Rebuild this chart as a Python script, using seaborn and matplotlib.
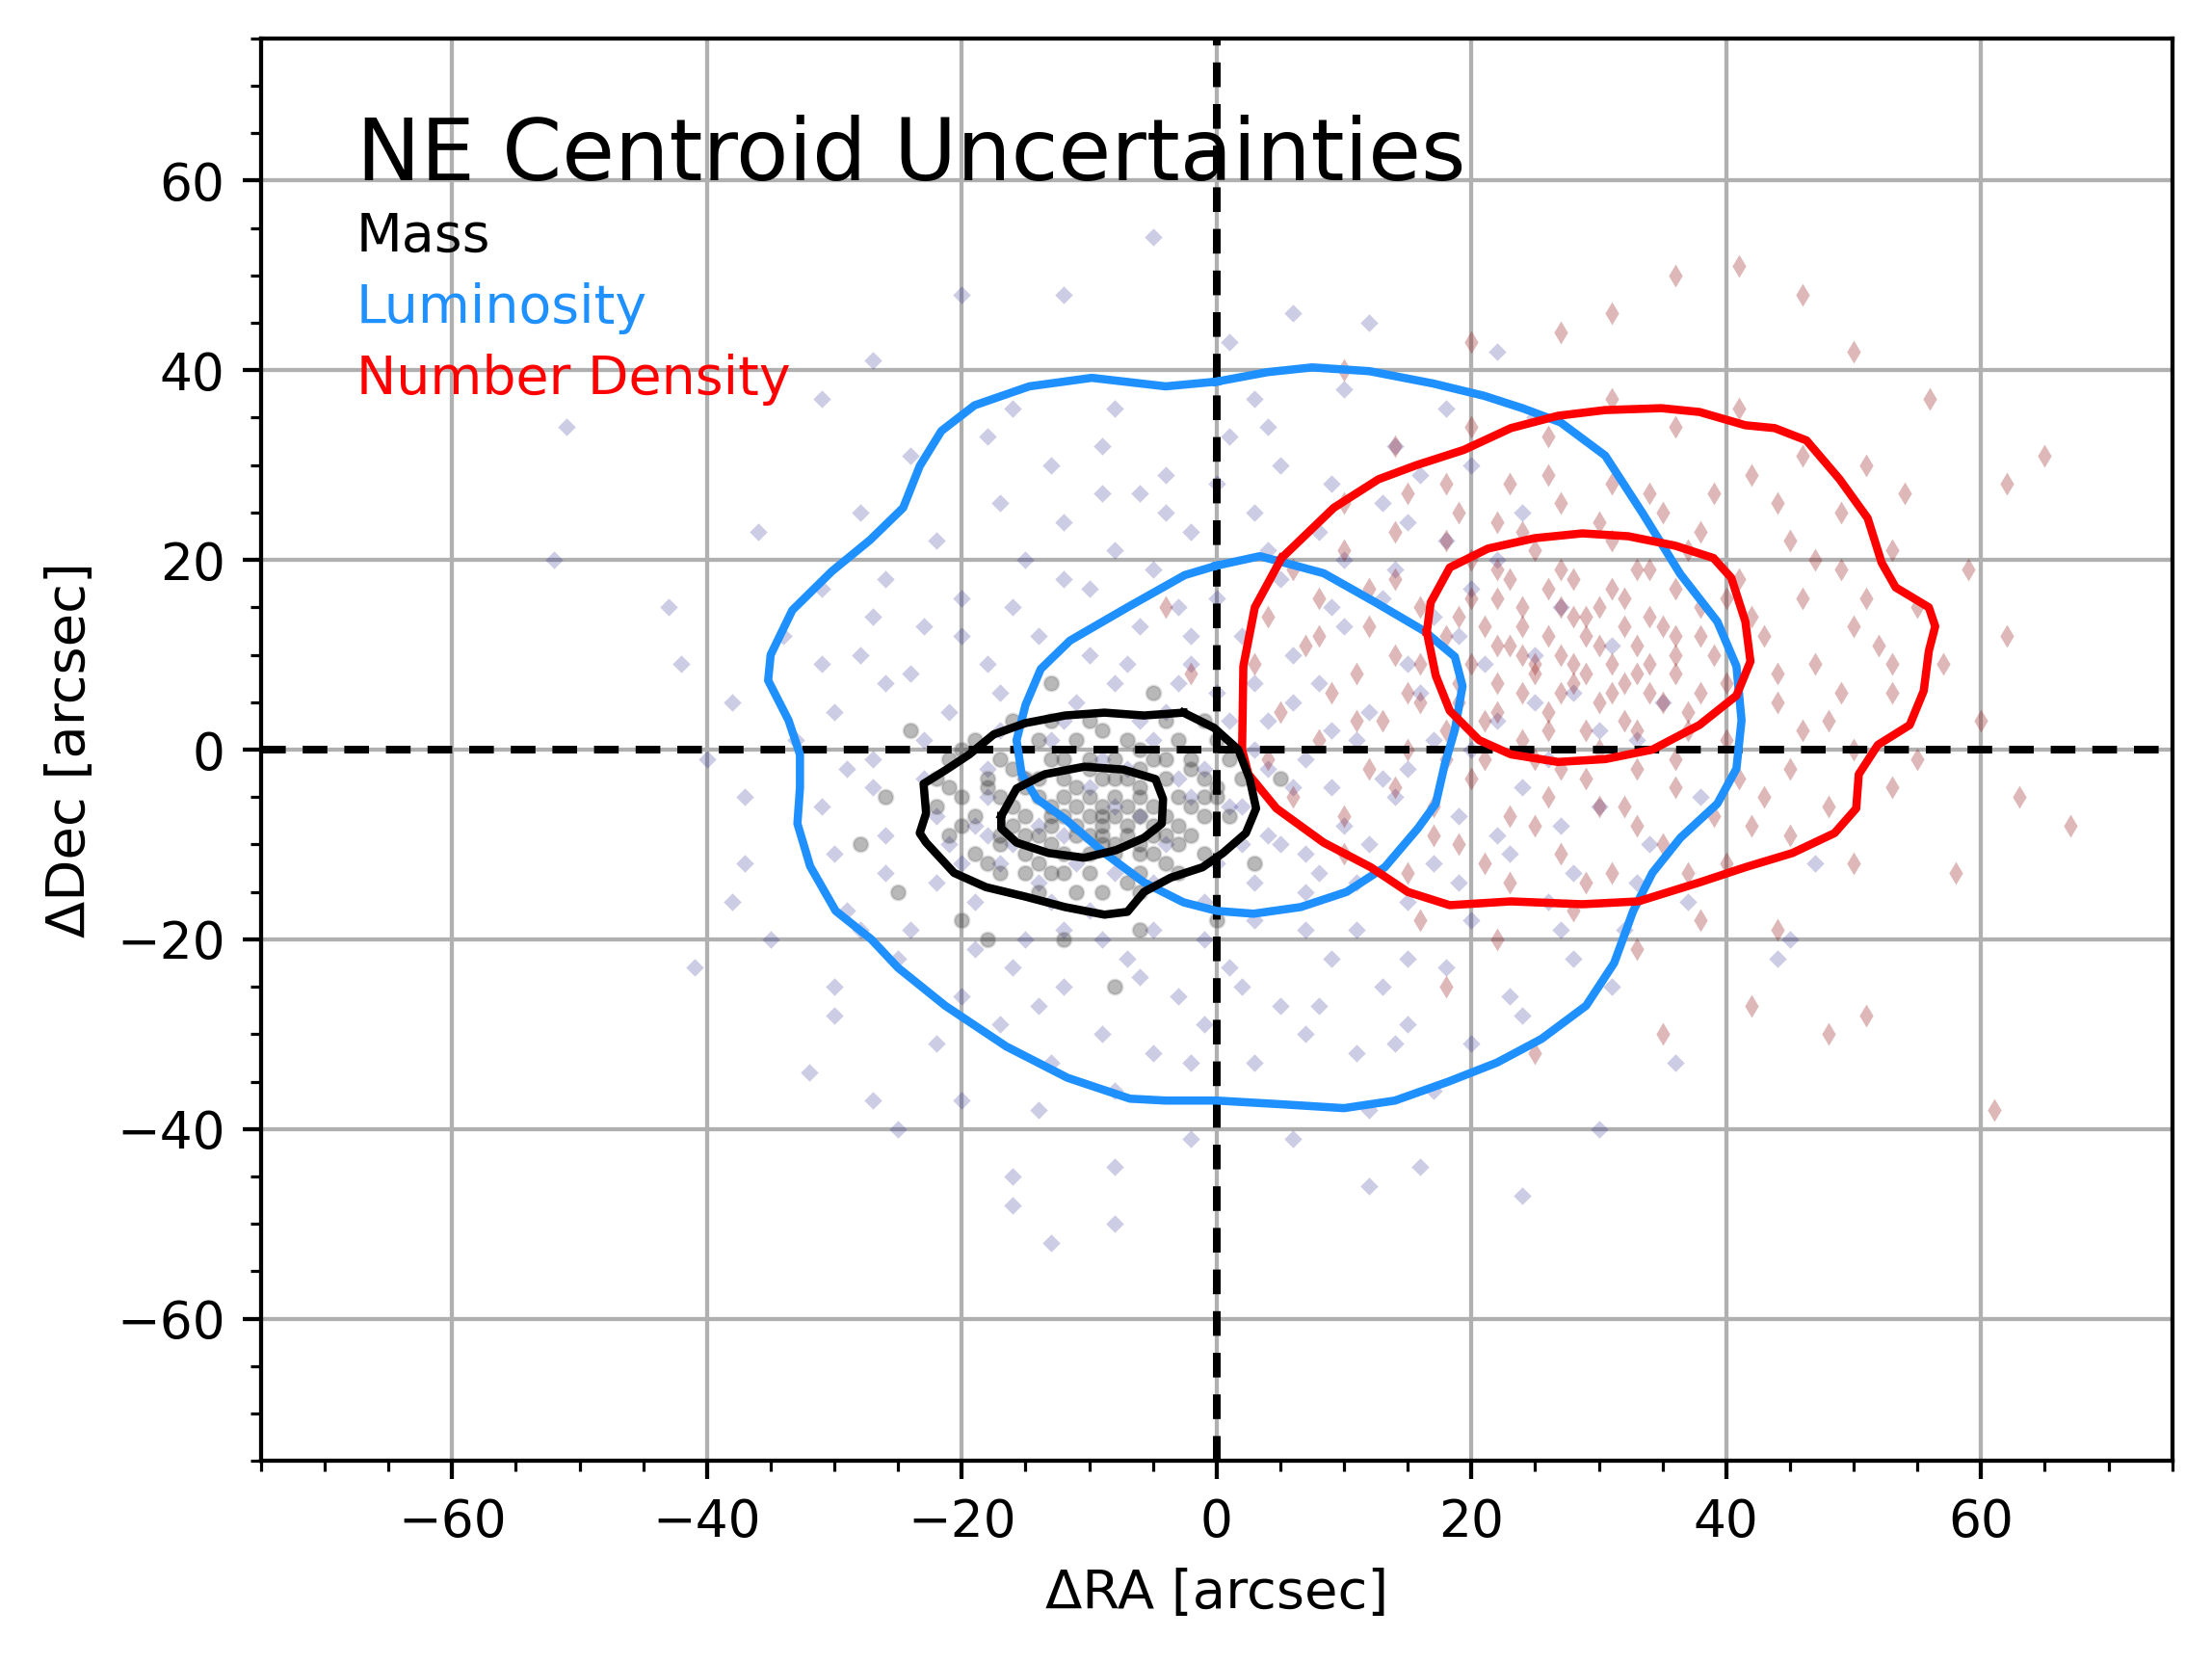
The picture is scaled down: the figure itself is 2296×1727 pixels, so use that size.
import matplotlib
matplotlib.use("Agg")
import matplotlib.pyplot as plt
import seaborn as sns
from matplotlib.ticker import MultipleLocator

# contour lines (x, y in arcsec)
lum_outer_x = [0, 4, 7.5, 12, 17, 21, 24, 27, 30.5, 33.4, 36.4, 39.3, 40.8, 41.2, 40.8, 39.3, 36.4, 34.2,
               32.7, 31.2, 29, 25.5, 22, 18.2, 14, 10, 5.2, 0, -4, -6.8, -11.7, -16.5, -21.3, -25, -27.1,
               -29.9, -31.9, -32.9, -32.7, -32.7, -33.6, -35.2, -35, -33.3, -30.2, -27.2, -24.6, -23.3,
               -21.6, -19, -14.7, -9.8, -4, 0]
lum_outer_y = [38.8, 39.8, 40.3, 39.9, 38.6, 37.3, 36, 34.5, 31, 25, 18.5, 13.5, 8.8, 3.1, -2, -5.7, -9.3, -13,
               -17, -22.5, -27, -30.5, -33, -35, -37, -37.8, -37.4, -37, -37, -36.8, -34.6, -31.3, -27, -23,
               -20, -17, -12.3, -7.8, -4, -0.5, 3.1, 7.3, 10, 14.7, 18.8, 22.1, 25.5, 29.9, 33.6, 36.3, 38.3,
               39.2, 38.3, 38.8]
lum_inner_x = [0, 3.4, 8.4, 12.5, 16.3, 18.7, 19.3, 18.7, 17.9, 17.2, 15.8, 13.2, 10.2, 6.6, 2.9, 0, -2.6,
               -5.7, -8.8, -11.9, -14.1, -15.3, -15.7, -15, -13.8, -11.5, -7, -2.5, 0]
lum_inner_y = [19.4, 20.4, 18.6, 15.5, 12.5, 9.8, 6.7, 2.1, -1.6, -5.7, -8.3, -12.4, -15, -16.6, -17.3, -17,
               -16.1, -14, -10.9, -7.3, -5.2, -2.6, 1, 4.7, 8.5, 11.5, 15, 18.4, 19.4]
nd_outer_x = [5.1, 3, 2.1, 2, 2.5, 4.7, 8.4, 12.1, 15, 18.3, 23.1, 28.7, 33.1, 37.9, 41.5, 45.2, 48.5, 50.2,
              50.4, 51.9, 54.4, 55.5, 55.9, 56.4, 55.9, 53.3, 52.2, 51.1, 48.9, 46.3, 43.8, 41.5, 37.9, 34.9,
              30.5, 26.8, 23.1, 19.4, 15.7, 12.7, 9.2, 5.1]
nd_outer_y = [20.2, 15, 8.8, 0, -2.6, -6.2, -9.8, -12.4, -15, -16.4, -16, -16.3, -16, -14, -12.4, -10.9, -8.8,
              -6.2, -2.6, 0.5, 2.6, 6.2, 10.4, 13, 15, 17.1, 19.7, 24.4, 28.5, 32.6, 33.9, 34.2, 35.6, 36,
              35.8, 35.2, 33.9, 31.6, 30, 28.5, 25.5, 20.2]
nd_inner_x = [16.5, 17.2, 18.3, 20.6, 23.1, 26.8, 30.5, 34.2, 37.9, 40.8, 41.9, 41.5, 40.4, 39, 36, 32.3,
              28.7, 25, 21.3, 18.3, 16.8, 16.5]
nd_inner_y = [12.4, 7.8, 4.1, 1, -0.5, -1.3, -1, 0, 2.6, 5.7, 9.3, 13.5, 18.1, 20.2, 21.5, 22.5, 22.8, 22.3,
              21.2, 19.2, 15.5, 12.4]
mass_outer_x = [-2.6, -0.2, 1.7, 2.6, 3.1, 2.3, 0.5, -1.1, -3.6, -5.7, -7, -8.8, -11.9, -15, -18.1, -20.6,
                -22.8, -23.3, -22.8, -23, -21.2, -19.4, -17.5, -15, -11.9, -8.8, -5.7, -2.6]
mass_outer_y = [3.9, 2.3, 0, -3.1, -6.2, -8.8, -10.9, -12.4, -13.5, -15, -17.1, -17.4, -16.6, -15.5, -14.5,
                -13, -9.8, -8.8, -6.7, -3.6, -2.1, -0.5, 1.6, 2.8, 3.6, 3.9, 3.6, 3.9]
mass_inner_x = [-16.9, -15.7, -13.5, -10.4, -7.3, -4.8, -4.2, -4.3, -5.7, -7.9, -10.4, -13.2, -15.7, -16.9,
                -16.9]
mass_inner_y = [-7, -4.1, -2.6, -1.8, -2.1, -3.1, -5.2, -7.8, -9.3, -10.6, -11.4, -10.9, -9.8, -8.3, -7]

# centroid samples, estimated from the scatter in the reference
lum_pts = [(-5, 54), (-12, 48), (-20, 48), (6, 46), (12, 45), (1, 43), (22, 42),
           (-27, 41), (-31, 37), (-16, 36), (-8, 36), (3, 37), (10, 38), (18, 36), (25, 35),
           (-51, 34), (-24, 31), (-18, 33), (-13, 30), (-9, 32), (-4, 29), (1, 33), (5, 30), (9, 28), (14, 32), (20, 30),
           (-36, 23), (-28, 25), (-22, 22), (-17, 26), (-12, 24), (-6, 27), (-2, 23), (3, 25), (8, 23), (13, 26),
           (18, 22), (24, 25), (-52, 20),
           (-43, 15), (-31, 17), (-26, 18), (-20, 16), (-15, 20), (-10, 17), (-5, 19), (0, 16), (4, 21), (9, 15),
           (14, 19), (20, 17), (27, 15),
           (-42, 9), (-34, 12), (-28, 10), (-23, 13), (-18, 9), (-14, 12), (-10, 10), (-6, 13), (-2, 9), (2, 12),
           (6, 10), (10, 13), (15, 9), (19, 12), (25, 10), (31, 11),
           (-38, 5), (-30, 4), (-26, 7), (-21, 4), (-17, 6), (-12, 3), (-8, 7), (-4, 4), (0, 6), (4, 3), (8, 7),
           (12, 4), (16, 6), (22, 3), (28, 6), (35, 5),
           (-40, -1), (-33, 1), (-27, -1), (-23, 1), (-18, -2), (-13, 1), (-9, -1), (-5, 1), (-1, -2), (3, 0),
           (7, -1), (11, 1), (15, -2), (20, 0), (26, -1), (33, 1),
           (-37, -5), (-31, -6), (-27, -4), (-22, -7), (-18, -5), (-14, -8), (-10, -4), (-6, -7), (-2, -5), (2, -6),
           (6, -4), (10, -8), (14, -5), (19, -7), (24, -4), (30, -6), (38, -5),
           (-37, -12), (-30, -11), (-26, -13), (-21, -10), (-17, -12), (-12, -9), (-8, -13), (-4, -10), (0, -12),
           (4, -9), (8, -13), (12, -10), (17, -12), (22, -9), (28, -13), (34, -10), (47, -12),
           (-38, -16), (-35, -20), (-29, -17), (-24, -19), (-19, -16), (-15, -20), (-10, -17), (-5, -19), (-1, -16),
           (3, -18), (7, -15), (11, -19), (15, -16), (20, -18), (26, -16), (32, -19), (45, -20),
           (-41, -23), (-30, -25), (-25, -22), (-20, -26), (-16, -23), (-12, -25), (-7, -22), (-3, -26), (1, -23),
           (5, -27), (9, -22), (13, -25), (18, -23), (23, -26), (28, -22), (44, -22),
           (-30, -28), (-32, -34), (-22, -31), (-17, -29), (-13, -33), (-9, -30), (-5, -32), (-1, -29), (3, -33),
           (7, -30), (11, -32), (15, -29), (20, -31), (24, -28), (36, -33),
           (-27, -37), (-25, -40), (-20, -37), (-14, -38), (-8, -36), (-2, -41), (6, -41), (12, -38), (17, -36),
           (30, -40), (-16, -45), (-16, -48), (-13, -52), (-8, -50), (-8, -44), (12, -46), (16, -44), (24, -47),
           (-6, 3), (-3, -3), (1, 3), (4, -2), (-8, -6), (-11, 5), (6, 5), (9, -4), (-2, 12), (2, -10),
           (-14, -14), (-16, -10), (-20, -12), (-7, 9), (3, 7), (-3, 15), (7, -11), (-12, -19),
           (-24, 8), (-20, 12), (-16, 15), (-12, 18), (-8, 21), (-4, 25), (0, 28), (5, 18), (10, 20), (15, 24),
           (-26, -9), (-22, -14), (-18, -9), (-13, -16), (-9, -20), (-5, -14), (-1, -20), (3, -14), (7, -19),
           (11, -14), (15, -22), (19, -14), (23, -11), (27, -8), (30, 2), (25, 5), (21, 9), (17, 14), (13, 16),
           (-7, -2), (-3, 7), (1, -6), (5, -10), (9, 2), (13, -3), (17, 1), (-17, 2), (-15, -3), (-19, -8),
           (-23, -3), (-11, -12), (-6, -24), (-2, -33), (2, -25), (8, -27), (14, -31), (-14, -27), (-19, -21),
           (-28, -19), (-9, 27), (4, 34), (16, 29), (-31, 9), (-29, -2), (33, -14), (37, -16), (31, -25),
           (-27, 14), (22, 20), (27, -19)]

nd_pts = [(36, 50), (41, 51), (46, 48), (31, 46), (50, 42), (56, 37), (62, 28), (65, 31), (67, -8), (63, -5),
          (51, -28), (61, -38), (48, -30), (59, 19), (62, 12), (60, 3), (58, -13), (42, -27), (35, -30),
          (25, -32), (18, -25), (-2, 8), (-4, 15), (10, 40), (20, 43), (27, 44),
          (14, 32), (20, 34), (26, 33), (31, 37), (36, 34), (41, 36), (46, 31), (51, 30),
          (10, 26), (15, 27), (19, 25), (23, 28), (27, 26), (31, 28), (35, 25), (39, 27), (44, 26), (49, 25), (54, 27),
          (6, 19), (10, 21), (14, 18), (18, 22), (22, 19), (25, 21), (28, 18), (31, 22), (34, 19), (37, 21),
          (41, 18), (45, 22), (49, 19), (53, 21),
          (4, 14), (8, 16), (12, 13), (16, 15), (19, 14), (22, 16), (24, 13), (27, 15), (29, 14), (32, 16),
          (35, 13), (38, 15), (42, 14), (46, 16), (50, 13), (55, 15),
          (3, 9), (7, 11), (11, 8), (14, 10), (18, 12), (20, 9), (23, 11), (25, 8), (27, 10), (29, 12), (31, 9),
          (33, 11), (36, 8), (39, 10), (43, 12), (47, 9), (52, 11), (57, 9),
          (5, 4), (9, 6), (13, 3), (16, 5), (19, 7), (22, 4), (24, 6), (26, 4), (28, 7), (30, 5), (32, 3), (34, 6),
          (37, 4), (40, 7), (44, 5), (48, 3), (53, 6),
          (4, -1), (8, 1), (12, -2), (15, 0), (18, 2), (21, -1), (24, 1), (27, -2), (30, 0), (33, 2), (36, -1),
          (40, 1), (45, -2), (50, 0), (55, -1),
          (6, -5), (10, -7), (14, -4), (17, -6), (20, -3), (23, -7), (26, -5), (29, -3), (32, -6), (36, -4),
          (39, -7), (43, -5), (48, -6), (53, -4),
          (10, -11), (15, -13), (19, -10), (23, -14), (27, -11), (31, -13), (35, -10), (40, -12), (45, -9), (50, -12),
          (16, -18), (22, -20), (28, -17), (33, -21), (38, -18), (44, -19),
          (21, 13), (24, 15), (26, 12), (28, 14), (30, 11), (32, 13), (34, 9), (36, 12), (22, 7), (25, 9), (27, 6),
          (29, 8), (31, 6), (33, 8), (35, 5), (23, 18), (27, 19), (31, 17), (19, 5), (38, 6),
          (8, 12), (12, 17), (16, 9), (20, 16), (22, 11), (24, 10), (26, 17), (28, 9), (30, 15), (32, 7), (34, 14),
          (36, 10), (38, 12), (40, 16), (44, 8), (11, 3), (15, 6), (18, -1), (21, 3), (25, -1), (29, 2), (33, -2),
          (37, 2), (41, -3), (46, 2), (17, -9), (21, -12), (25, -8), (29, -14), (33, -8), (37, -13), (42, -8),
          (14, 23), (18, 28), (22, 24), (26, 29), (30, 24), (34, 27), (38, 23), (42, 29), (47, 20), (51, 16),
          (53, 9), (49, 6), (20, 20), (24, 23), (33, 19), (36, 17), (26, 2), (30, -6)]

mass_pts = [(-16, 3), (-10, 3), (-4, 3), (-1, 3),
            (-19, 1), (-14, 1), (-11, 1), (-7, 1), (-3, 1), (0, 1),
            (-21, -1), (-17, -1), (-13, -1), (-10, -1), (-8, -1), (-5, -1), (-2, -1), (1, -1),
            (-22, -3), (-18, -3), (-15, -3), (-12, -3), (-9, -3), (-7, -3), (-4, -3), (-1, -3), (2, -3),
            (-15, -4), (-11, -4), (-6, -4),
            (-20, -5), (-17, -5), (-14, -5), (-12, -5), (-10, -5), (-8, -5), (-6, -5), (-3, -5), (0, -5),
            (-22, -6), (-16, -6), (-13, -6), (-11, -6), (-9, -6), (-7, -6), (-5, -6), (-2, -6),
            (-19, -7), (-15, -7), (-12, -7), (-10, -7), (-8, -7), (-6, -7), (-4, -7), (-1, -7), (1, -7),
            (-16, -8), (-13, -8), (-9, -8), (-5, -8),
            (-21, -9), (-17, -9), (-14, -9), (-11, -9), (-9, -9), (-7, -9), (-4, -9), (-2, -9),
            (-13, -10), (-9, -10), (-6, -10),
            (-19, -11), (-15, -11), (-12, -11), (-10, -11), (-8, -11), (-5, -11), (-1, -11),
            (-17, -13), (-13, -13), (-10, -13), (-6, -13), (-3, -13),
            (-14, -15), (-9, -15), (-6, -15),
            (-26, -5), (-28, -10), (-25, -15), (-20, -18), (-12, -20), (-6, -19), (3, -12), (5, -3), (-24, 2),
            (-13, 7), (-5, 6), (-18, -20), (-8, -25), (0, -18),
            (-18, -4), (-16, -2), (-14, -3), (-12, -1), (-10, -2), (-8, -3), (-6, -2), (-4, -1), (-17, -10),
            (-15, -9), (-13, -7), (-11, -8), (-9, -7), (-7, -8), (-5, -9), (-3, -8), (-14, -12), (-12, -13),
            (-10, -9), (-8, -10), (-6, -11), (-4, -12), (-20, -8), (-18, -12), (-2, -2), (0, -4), (-20, 0),
            (-9, 2), (-13, 3), (-6, 0), (-11, -15), (-7, -14), (-3, -10), (-1, -5), (-15, -13), (-21, -4)]

lum_x = [p[0] for p in lum_pts]
lum_y = [p[1] for p in lum_pts]
nd_x = [p[0] for p in nd_pts]
nd_y = [p[1] for p in nd_pts]
mass_x = [p[0] for p in mass_pts]
mass_y = [p[1] for p in mass_pts]

DPI = 384
fig = plt.figure(figsize=(2296 / DPI, 1727 / DPI), dpi=DPI)
ax = fig.add_axes([0.118, 0.122, 0.864, 0.855])
ax.set_axisbelow(True)
ax.grid(True, which="major", color="#b0b0b0", lw=0.8)

# samples
sns.scatterplot(x=lum_x, y=lum_y, marker="D", s=6, color="navy", alpha=0.2, linewidth=0, ax=ax)
sns.scatterplot(x=nd_x, y=nd_y, marker="d", s=10, color="darkred", alpha=0.28, linewidth=0, ax=ax)
sns.scatterplot(x=mass_x, y=mass_y, marker="o", s=8, color="black", alpha=0.28,
                edgecolor="gray", linewidth=0.5, ax=ax)

# reference axes
ax.axhline(0, color="k", ls=(0, (3.2, 2.2)), lw=1.5, zorder=3)
ax.axvline(0, color="k", ls=(0, (3.2, 2.2)), lw=1.5, zorder=3)

# contour levels
for cx, cy, c in [(lum_outer_x, lum_outer_y, "dodgerblue"), (lum_inner_x, lum_inner_y, "dodgerblue"),
                  (nd_outer_x, nd_outer_y, "red"), (nd_inner_x, nd_inner_y, "red"),
                  (mass_outer_x, mass_outer_y, "black"), (mass_inner_x, mass_inner_y, "black")]:
    sns.lineplot(x=cx, y=cy, sort=False, estimator=None, color=c, lw=1.6, ax=ax, zorder=4,
                 solid_joinstyle="round")

ax.set_xlim(-75, 75)
ax.set_ylim(-75, 75)
ax.xaxis.set_major_locator(MultipleLocator(20))
ax.yaxis.set_major_locator(MultipleLocator(20))
ax.xaxis.set_minor_locator(MultipleLocator(5))
ax.yaxis.set_minor_locator(MultipleLocator(5))
ax.tick_params(labelsize=10)
ax.set_xlabel("ΔRA [arcsec]", fontsize=10.5)
ax.set_ylabel("ΔDec [arcsec]", fontsize=10.5)

ax.text(0.05, 0.9, "NE Centroid Uncertainties", transform=ax.transAxes, fontsize=16.7)
ax.text(0.05, 0.85, "Mass", transform=ax.transAxes, fontsize=10.4, color="black")
ax.text(0.05, 0.80, "Luminosity", transform=ax.transAxes, fontsize=10.4, color="dodgerblue")
ax.text(0.05, 0.75, "Number Density", transform=ax.transAxes, fontsize=10.4, color="red")

fig.savefig("out.png", dpi=DPI)
